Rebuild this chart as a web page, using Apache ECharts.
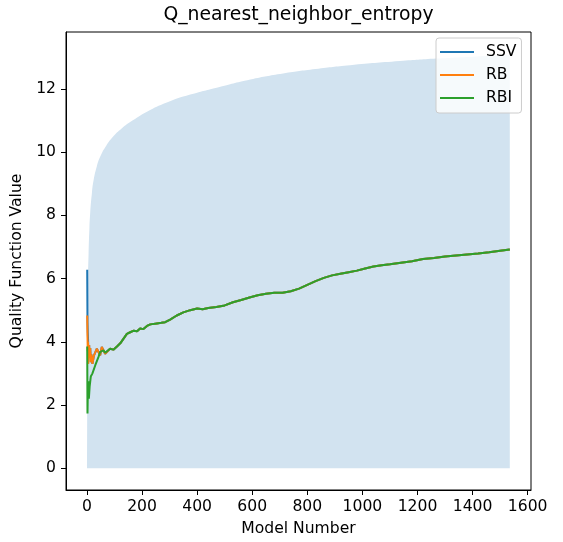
<!DOCTYPE html>
<html>
<head>
<meta charset="utf-8">
<script src="https://cdn.jsdelivr.net/npm/echarts@6/dist/echarts.min.js"></script>
<style>html,body{margin:0;padding:0;background:#fff}#c{width:563px;height:542px}</style>
</head>
<body>
<div id="c"></div>
<script>
// Upper bound of the shaded region
var fillModels = [1, 2, 3, 4, 6, 9, 12, 18, 24, 36, 48, 70, 96, 125, 157, 218, 290, 375, 471, 593, 712, 830, 955, 1136, 1269, 1400, 1535];
var fillUpper  = [0, 4.5, 5.6, 6.1, 6.8, 7.6, 8.1, 8.7, 9.1, 9.55, 9.85, 10.2, 10.5, 10.74, 10.95, 11.28, 11.57, 11.82, 12.04, 12.3, 12.49, 12.63, 12.75, 12.88, 12.96, 13.02, 13.07];

// Common tail shared by all three methods (they coincide later)
var tailModels = [84, 96, 109, 121, 133, 145, 157, 170, 182, 193, 205, 218, 230, 254, 270, 284, 302, 326, 350, 375, 400, 420, 440, 470, 500, 530, 560, 590, 620, 650, 680, 710, 740, 770, 800, 830, 860, 890, 920, 950, 980, 1010, 1040, 1070, 1100, 1140, 1180, 1220, 1260, 1300, 1340, 1380, 1420, 1460, 1500, 1535];
var tailValues = [3.78, 3.75, 3.85, 3.95, 4.1, 4.25, 4.3, 4.35, 4.33, 4.42, 4.4, 4.5, 4.55, 4.58, 4.6, 4.62, 4.7, 4.83, 4.93, 5.0, 5.05, 5.03, 5.07, 5.1, 5.15, 5.25, 5.32, 5.4, 5.47, 5.52, 5.55, 5.55, 5.6, 5.68, 5.8, 5.92, 6.02, 6.1, 6.15, 6.2, 6.25, 6.32, 6.38, 6.42, 6.45, 6.5, 6.55, 6.62, 6.65, 6.7, 6.73, 6.76, 6.79, 6.83, 6.88, 6.92];

// Early, distinct parts of each series
var ssvHeadModels = [1, 2, 3, 4, 5];
var ssvHeadValues = [6.28, 4.6, 4.3, 4.1, 3.6];
var rbHeadModels = [1, 2, 3, 4, 5, 6, 8, 10, 12, 14, 16, 20, 25, 30, 36, 42, 48, 54, 60, 66, 72];
var rbHeadValues = [4.83, 4.2, 3.7, 4.0, 3.3, 3.6, 3.9, 3.5, 3.8, 3.35, 3.6, 3.3, 3.55, 3.52, 3.78, 3.83, 3.57, 3.84, 3.87, 3.62, 3.62];
var rbiHeadModels = [1, 2, 3, 5, 7, 8, 10, 14, 20, 30, 42, 48, 60, 66, 72];
var rbiHeadValues = [3.85, 1.73, 2.3, 2.75, 2.2, 2.15, 2.6, 2.9, 3.0, 3.25, 3.52, 3.68, 3.73, 3.65, 3.62];

var xTicks = [0, 200, 400, 600, 800, 1000, 1200, 1400, 1600];
var yTicks = [0, 2, 4, 6, 8, 10, 12];
var seriesNames = ['SSV', 'RB', 'RBI'];
var seriesColors = ['#1f77b4', '#ff7f0e', '#2ca02c'];

function pairs(xs, ys) { return xs.map(function (x, i) { return [x, ys[i]]; }); }
function merged(hx, hy) {
  var out = pairs(hx, hy);
  var last = hx[hx.length - 1];
  tailModels.forEach(function (x, i) { if (x > last) out.push([x, tailValues[i]]); });
  return out;
}
var ssvData = (function () {
  var out = pairs(ssvHeadModels, ssvHeadValues);
  rbHeadModels.forEach(function (x, i) { if (x > 5) out.push([x, rbHeadValues[i]]); });
  tailModels.forEach(function (x, i) { if (x > 72) out.push([x, tailValues[i]]); });
  return out;
})();
var rbData = merged(rbHeadModels, rbHeadValues);
var rbiData = merged(rbiHeadModels, rbiHeadValues);

var FONT = 'DejaVu Sans';
var FS = 15.6;
var chart = echarts.init(document.getElementById('c'), null, { renderer: 'canvas' });
chart.setOption({
  animation: false,
  backgroundColor: '#fff',
  textStyle: { fontFamily: FONT, color: '#000' },
  graphic: [{
    type: 'text', x: 298.5, y: 15,
    style: { text: 'Q_nearest_neighbor_entropy', font: '18.8px "DejaVu Sans"', fill: '#000', align: 'center', verticalAlign: 'middle' }
  }],
  grid: { left: 66, right: 32, top: 32, bottom: 50, show: true, borderColor: '#000', borderWidth: 1, backgroundColor: 'transparent' },
  legend: {
    left: 436, top: 38, orient: 'vertical',
    data: seriesNames, icon: 'rect', itemWidth: 34, itemHeight: 2, itemGap: 7,
    padding: [6, 5, 7, 4],
    backgroundColor: 'rgba(255,255,255,0.8)', borderColor: '#cccccc', borderWidth: 1, borderRadius: 3,
    textStyle: { fontFamily: FONT, fontSize: FS, color: '#000', lineHeight: 16, padding: [0, 0, 0, 7] }
  },
  xAxis: {
    type: 'value', min: -76, max: 1612,
    name: 'Model Number', nameLocation: 'middle', nameGap: 31,
    nameTextStyle: { fontFamily: FONT, fontSize: FS, color: '#000' },
    axisLine: { show: true, onZero: false, lineStyle: { color: '#000', width: 1 } },
    axisTick: { show: true, inside: false, length: 5, customValues: xTicks, lineStyle: { color: '#000', width: 1 } },
    axisLabel: { show: true, margin: 9, customValues: xTicks, formatter: function (v) { return String(v); }, fontFamily: FONT, fontSize: FS, color: '#000' },
    splitLine: { show: false }
  },
  yAxis: {
    type: 'value', min: -0.69, max: 13.8,
    name: 'Quality Function Value', nameLocation: 'middle', nameGap: 40,
    nameTextStyle: { fontFamily: FONT, fontSize: FS, color: '#000' },
    axisLine: { show: true, onZero: false, lineStyle: { color: '#000', width: 1 } },
    axisTick: { show: true, inside: false, length: 5, customValues: yTicks, lineStyle: { color: '#000', width: 1 } },
    axisLabel: { show: true, margin: 10, customValues: yTicks, formatter: function (v) { return String(v); }, fontFamily: FONT, fontSize: FS, color: '#000' },
    splitLine: { show: false }
  },
  series: [
    {
      name: 'bound', type: 'line', data: pairs(fillModels, fillUpper), showSymbol: false, symbol: 'none',
      smooth: 0.5,
      lineStyle: { width: 0, opacity: 0 },
      areaStyle: { color: '#d2e3f0', opacity: 1, origin: 0 },
      silent: true, z: 1
    },
    { name: 'SSV', type: 'line', data: ssvData, showSymbol: false, symbol: 'none', color: seriesColors[0], lineStyle: { width: 2, color: seriesColors[0] }, z: 2 },
    { name: 'RB', type: 'line', data: rbData, showSymbol: false, symbol: 'none', color: seriesColors[1], lineStyle: { width: 2, color: seriesColors[1] }, z: 3 },
    { name: 'RBI', type: 'line', data: rbiData, showSymbol: false, symbol: 'none', color: seriesColors[2], lineStyle: { width: 2, color: seriesColors[2] }, z: 4 }
  ]
});
</script>
</body>
</html>
